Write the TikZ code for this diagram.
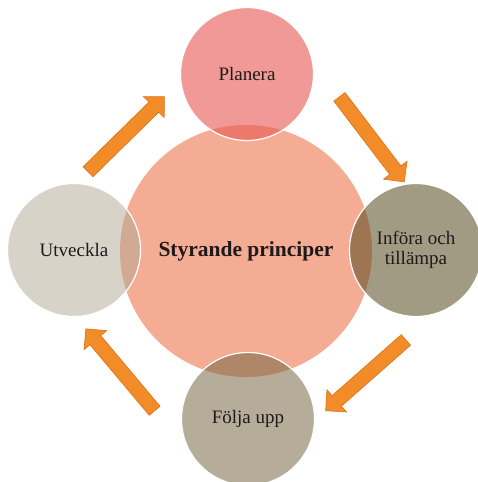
\documentclass[tikz,border=0pt]{standalone}
\usepackage{fontspec}
\setmainfont{Liberation Serif}
\usepackage{xcolor}
\definecolor{centrefill}{RGB}{245,172,148}
\definecolor{planfill}{RGB}{233,90,85}
\definecolor{implfill}{RGB}{85,73,29}
\definecolor{followfill}{RGB}{118,102,68}
\definecolor{devfill}{RGB}{177,167,147}
\definecolor{arrowfill}{RGB}{242,140,40}
\definecolor{arrowedge}{RGB}{218,114,26}
\definecolor{labeltext}{RGB}{30,26,26}
\usetikzlibrary{shapes.arrows}
\tikzset{
	phase/.style={circle, draw=white, line width=1.2pt, minimum size=133pt, inner sep=0pt,
	align=center, text=labeltext, text opacity=1, font=\fontsize{19}{20}\selectfont}
}
\tikzset{
	cyclearrow/.style={single arrow, fill=arrowfill, draw=arrowedge, line width=0.6pt,
	minimum height=107pt, inner sep=6.75pt, single arrow head extend=7.75pt, single arrow tip angle=90}
}

\begin{document}
\begin{tikzpicture}[x=1pt, y=-1pt]
		\useasboundingbox (0, 0) rectangle (478, 482);

		% core
		\node[circle, fill=centrefill, minimum size=252pt, inner sep=0pt, text=labeltext,
			font=\fontsize{21.5}{24}\selectfont\bfseries] (core) at (246, 251) {Styrande principer};

		% phases
		\node[phase, fill=planfill, fill opacity=0.62] (plan) at (247, 74) {Planera};
		\node[phase, fill=implfill, fill opacity=0.55] (impl) at (416, 250) {Införa och\\tillämpa};
		\node[phase, fill=followfill, fill opacity=0.54] (follow) at (248, 419) {Följa upp};
		\node[phase, fill=devfill, fill opacity=0.5] (dev) at (74, 250) {Utveckla};

		% arrows between the phases
		\node[cyclearrow, rotate=44.5] (devtoplan) at (123.7, 136.7) {};
		\node[cyclearrow, rotate=-52.7] (plantoimpl) at (369.7, 136.6) {};
		\node[cyclearrow, rotate=221.4] (impltofollow) at (368.4, 373) {};
		\node[cyclearrow, rotate=130] (followtodev) at (122.5, 372.5) {};

	\end{tikzpicture}
\end{document}
